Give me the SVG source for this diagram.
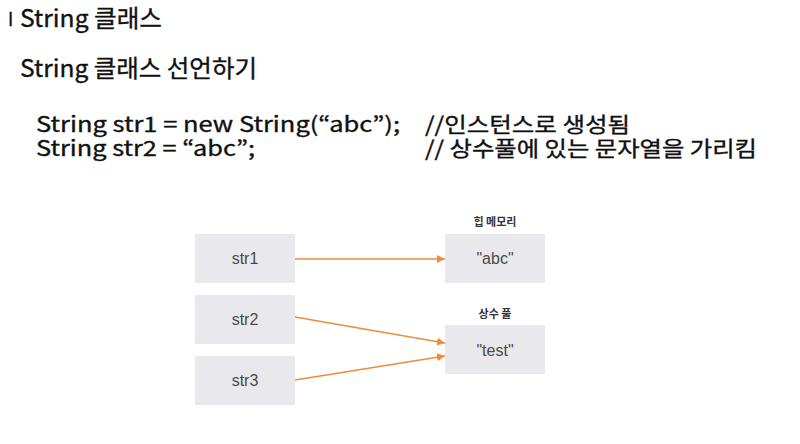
<svg xmlns="http://www.w3.org/2000/svg" width="800" height="444" viewBox="0 0 800 444">
<defs>
<style>
.h{font-family:"Noto Sans CJK KR","Noto Sans",sans-serif;fill:#111;font-weight:400;stroke:#111;stroke-width:0.35}
.box{fill:#e9e8ec}
.lbl{font-family:"Liberation Sans",Arial,sans-serif;font-size:16px;fill:#4a4a4a;text-anchor:middle}
.cap{font-family:"Noto Sans CJK KR",sans-serif;font-size:11px;font-weight:bold;fill:#333;text-anchor:middle}
.con{stroke:#f08a3c;stroke-width:1.5;fill:none;marker-end:url(#ah)}
</style>
<marker id="ah" viewBox="0 0 10 10" refX="10" refY="5" markerWidth="8" markerHeight="8" markerUnits="userSpaceOnUse" orient="auto">
<path d="M0,0 L10,5 L0,10 Z" fill="#f08a3c"/>
</marker>
</defs>
<rect width="800" height="444" fill="#fff"/>
<text class="h" x="8" y="26" font-size="18" font-weight="bold">I</text>
<text class="h" x="20" y="27" font-size="24" textLength="142" lengthAdjust="spacingAndGlyphs">String 클래스</text>
<text class="h" x="20" y="77" font-size="24" textLength="237" lengthAdjust="spacingAndGlyphs">String 클래스 선언하기</text>
<text class="h" x="36" y="132" font-size="21" textLength="364" lengthAdjust="spacingAndGlyphs">String str1 = new String(“abc”);</text>
<text class="h" x="425" y="132" font-size="21" textLength="205" lengthAdjust="spacingAndGlyphs">//인스턴스로 생성됨</text>
<text class="h" x="36" y="156" font-size="21" textLength="219" lengthAdjust="spacingAndGlyphs">String str2 = “abc”;</text>
<text class="h" x="425" y="156" font-size="21" textLength="332" lengthAdjust="spacingAndGlyphs">// 상수풀에 있는 문자열을 가리킴</text>
<g id="str1"><rect class="box" x="195" y="234" width="100" height="49"/><text class="lbl" x="245" y="264">str1</text></g>
<g id="str2"><rect class="box" x="195" y="295" width="100" height="49"/><text class="lbl" x="245" y="325">str2</text></g>
<g id="str3"><rect class="box" x="195" y="356" width="100" height="49"/><text class="lbl" x="245" y="386">str3</text></g>
<g id="heap"><text class="cap" x="495" y="226">힙 메모리</text><rect class="box" x="445" y="234" width="100" height="49"/><text class="lbl" x="495" y="264">"abc"</text></g>
<g id="pool"><text class="cap" x="495" y="318">상수 풀</text><rect class="box" x="445" y="325" width="100" height="49"/><text class="lbl" x="495" y="356">"test"</text></g>
<g id="connectors">
<line class="con" x1="295" y1="259" x2="445" y2="259"/>
<line class="con" x1="295" y1="317" x2="445" y2="343"/>
<line class="con" x1="295" y1="380" x2="445" y2="356"/>
</g>
</svg>
